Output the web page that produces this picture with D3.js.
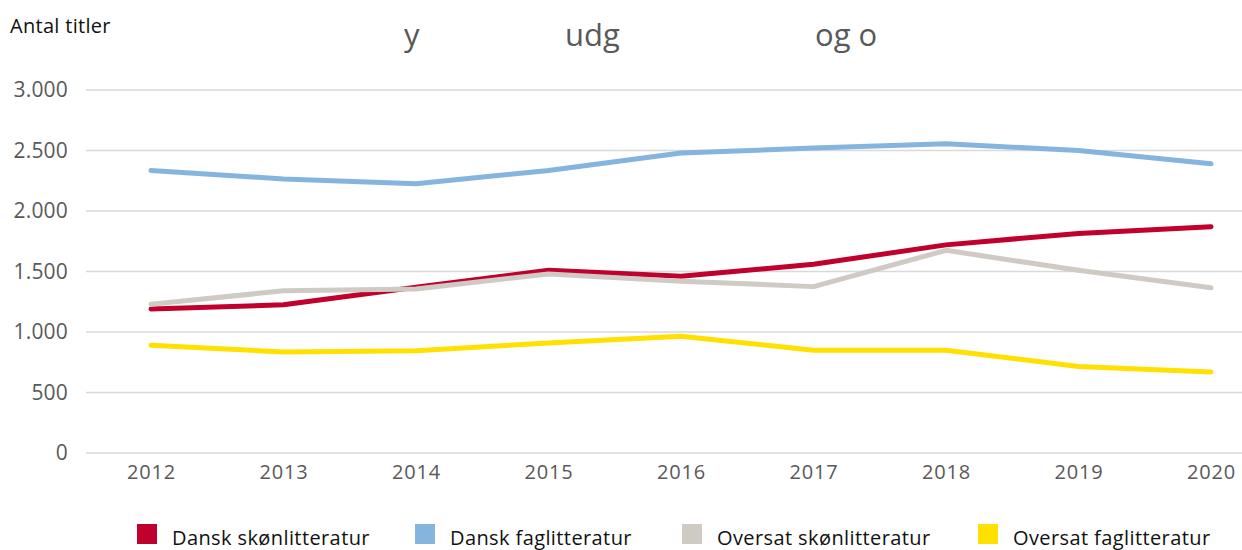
<!DOCTYPE html>
<html>
<head>
<meta charset="utf-8">
<script src="https://cdn.jsdelivr.net/npm/d3@7"></script>
<style>
  body { margin: 0; background: #fff; }
  svg { display: block; }
</style>
</head>
<body>
<div id="chart"></div>
<script>
var years = ['2012','2013','2014','2015','2016','2017','2018','2019','2020']
var danskSkon = [1190, 1225, 1370, 1510, 1460, 1560, 1720, 1815, 1870]
var danskFag = [2335, 2265, 2225, 2335, 2480, 2520, 2555, 2500, 2390]
var oversatSkon = [1230, 1340, 1355, 1480, 1420, 1375, 1675, 1510, 1365]
var oversatFag = [890, 835, 845, 910, 965, 850, 850, 715, 670]
var yTicks = [0, 500, 1000, 1500, 2000, 2500, 3000]
var seriesNames = ['Dansk skønlitteratur','Dansk faglitteratur','Oversat skønlitteratur','Oversat faglitteratur']
var colors = ['#C0002D','#85B4DE','#CFCBC4','#FFE000']
var seriesValues = [danskSkon, danskFag, oversatSkon, oversatFag]

var width = 1242, height = 550
var svg = d3.select('#chart').append('svg')
    .attr('width', width)
    .attr('height', height)

var x = d3.scalePoint().domain(years).range([151, 1211])
var y = d3.scaleLinear().domain([0, 3000]).range([453, 90])

// gridlines
svg.append('g').selectAll('line')
    .data(yTicks)
    .enter()
    .append('line')
    .attr('x1', 86)
    .attr('x2', width)
    .attr('y1', function(d) {return y(d);})
    .attr('y2', function(d) {return y(d);})
    .attr('stroke', '#d9d9d9')
    .attr('stroke-width', 1.5)

// y axis labels
var yAxis = d3.axisLeft(y).tickValues(yTicks).tickSize(0).tickPadding(0)
    .tickFormat(function(d) {return d3.format(',')(d).replace(',', '.');})
var yg = svg.append('g').attr('transform', 'translate(68,0)').call(yAxis)
yg.select('.domain').remove()
yg.selectAll('text')
    .attr('font-family', 'Open Sans, sans-serif')
    .attr('font-size', 21)
    .attr('letter-spacing', 0.2)
    .attr('fill', '#595959')

// x axis labels
var xAxis = d3.axisBottom(x).tickSize(0).tickPadding(0)
var xg = svg.append('g').attr('transform', 'translate(0,465)').call(xAxis)
xg.select('.domain').remove()
xg.selectAll('text')
    .attr('font-family', 'Open Sans, sans-serif')
    .attr('font-size', 20)
    .attr('letter-spacing', 0.8)
    .attr('fill', '#595959')

// lines
var line = d3.line()
    .x(function(d,i) {return x(years[i]);})
    .y(function(d) {return y(d);})

svg.append('g').selectAll('path')
    .data(seriesValues)
    .enter()
    .append('path')
    .attr('d', function(d) {return line(d);})
    .attr('fill', 'none')
    .attr('stroke', function(d,i) {return colors[i];})
    .attr('stroke-width', 5)
    .attr('stroke-linecap', 'round')
    .attr('stroke-linejoin', 'round')

// title fragments and axis label
svg.append('text')
    .attr('x', 10).attr('y', 33)
    .attr('font-family', 'Open Sans, sans-serif')
    .attr('font-size', 20)
    .attr('letter-spacing', 0.3)
    .attr('fill', '#111')
    .text('Antal titler')

var titleBits = [['y', 404], ['udg', 565], ['og o', 815]]
svg.append('g').selectAll('text')
    .data(titleBits)
    .enter()
    .append('text')
    .attr('x', function(d) {return d[1];})
    .attr('y', 46)
    .attr('font-family', 'Open Sans, sans-serif')
    .attr('font-size', 31)
    .attr('fill', '#595959')
    .text(function(d) {return d[0];})

// legend
var legendX = [137, 415, 682, 978]
var legend = svg.append('g').selectAll('g')
    .data(seriesNames)
    .enter()
    .append('g')
    .attr('transform', function(d,i) {return 'translate(' + legendX[i] + ',524)';})
legend.append('rect')
    .attr('width', 20).attr('height', 20)
    .attr('fill', function(d,i) {return colors[i];})
legend.append('text')
    .attr('x', 35).attr('y', 21)
    .attr('font-family', 'Open Sans, sans-serif')
    .attr('font-size', 20)
    .attr('letter-spacing', 0.4)
    .attr('fill', '#111')
    .text(function(d) {return d;})
</script>
</body>
</html>
